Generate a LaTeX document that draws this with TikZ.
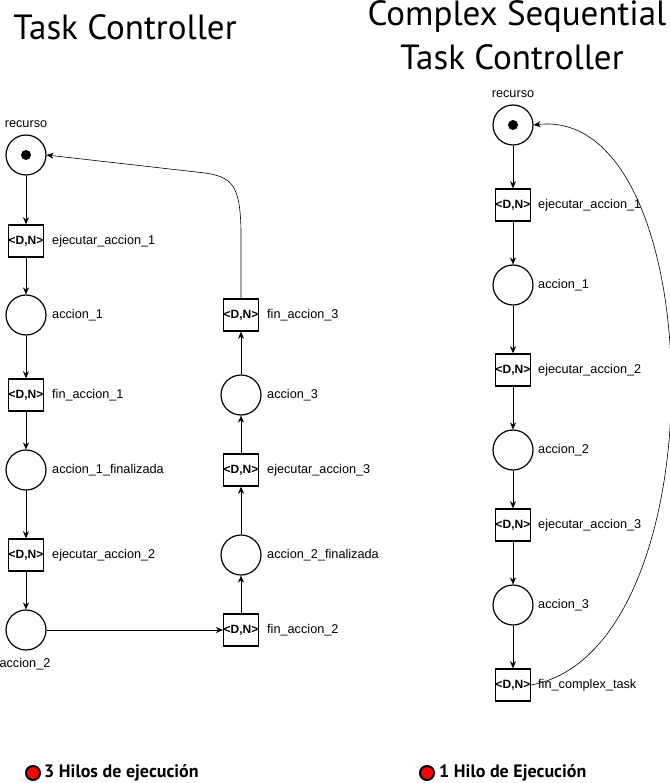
\documentclass[tikz,border=0pt]{standalone}
\usepackage{fontspec}
\setmainfont{Liberation Sans}
\newfontfamily\titlefont{PT Sans}
\usetikzlibrary{arrows.meta}

\begin{document}
\begin{tikzpicture}[x=1pt,y=-1pt,
    place/.style={shape=circle,draw=black,line width=1.2pt,minimum size=40pt,inner sep=0pt},
    trans/.style={shape=rectangle,draw=black,line width=1.5pt,minimum size=32pt,inner sep=0pt,font=\bfseries\fontsize{12}{12}\selectfont},
    lbl/.style={anchor=west,inner sep=0pt,font=\fontsize{12.7}{12.7}\selectfont},
    token/.style={shape=circle,fill=black,minimum size=10pt,inner sep=0pt},
    arc/.style={-{Stealth[length=7pt,width=6pt]},line width=0.6pt},
    title/.style={font=\titlefont\fontsize{35}{35}\selectfont,inner sep=0pt},
    legend/.style={shape=circle,fill=red,draw=black,line width=2pt,minimum size=14pt,inner sep=0pt},
    legtext/.style={anchor=west,inner sep=0pt,font=\titlefont\bfseries\fontsize{18}{18}\selectfont}]
  \useasboundingbox (0,0) rectangle (669,783);

  % titles
  \node[title] (T1) at (125,27) {Task Controller};
  \node[title] (T2a) at (517,17) {Complex Sequential};
  \node[title] (T2b) at (512,57) {Task Controller};

  % ---- left net
  \node[place] (R1) at (26,155) {};
  \node[token] (K1) at (R1) {};
  \node[lbl,anchor=south] (LR1) at (26,128) {recurso};

  \node[trans] (EA1) at (26,241) {<D,N>};
  \node[place] (A1) at (26,315) {};
  \node[trans] (FA1) at (26,395) {<D,N>};
  \node[place] (AF1) at (26,470) {};
  \node[trans] (EA2) at (26,555) {<D,N>};
  \node[place] (A2) at (26,630) {};

  \node[trans] (FA2) at (241,630) {<D,N>};
  \node[place] (AF2) at (241,555) {};
  \node[trans] (EA3) at (241,470) {<D,N>};
  \node[place] (A3) at (241,395) {};
  \node[trans] (FA3) at (241,315) {<D,N>};

  \node[lbl] (LEA1) at (52,241) {ejecutar\_accion\_1};
  \node[lbl] (LA1) at (52,315) {accion\_1};
  \node[lbl] (LFA1) at (52,395) {fin\_accion\_1};
  \node[lbl] (LAF1) at (52,470) {accion\_1\_finalizada};
  \node[lbl] (LEA2) at (52,555) {ejecutar\_accion\_2};
  \node[lbl,anchor=center] (LA2) at (25,664) {accion\_2};

  \node[lbl] (LFA2) at (267,630) {fin\_accion\_2};
  \node[lbl] (LAF2) at (267,555) {accion\_2\_finalizada};
  \node[lbl] (LEA3) at (267,470) {ejecutar\_accion\_3};
  \node[lbl] (LA3) at (267,395) {accion\_3};
  \node[lbl] (LFA3) at (267,315) {fin\_accion\_3};

  \draw[arc] (R1) -- (EA1);
  \draw[arc] (EA1) -- (A1);
  \draw[arc] (A1) -- (FA1);
  \draw[arc] (FA1) -- (AF1);
  \draw[arc] (AF1) -- (EA2);
  \draw[arc] (EA2) -- (A2);
  \draw[arc] (A2) -- (FA2);
  \draw[arc] (FA2) -- (AF2);
  \draw[arc] (AF2) -- (EA3);
  \draw[arc] (EA3) -- (A3);
  \draw[arc] (A3) -- (FA3);
  \draw[arc] (FA3.north) -- (241,230) .. controls (240,185) and (232,177) .. (205,173) -- (R1.east);

  % ---- right net
  \node[place] (R2) at (513,125) {};
  \node[token] (K2) at (R2) {};
  \node[lbl,anchor=south] (LR2) at (513,98) {recurso};

  \node[trans] (CE1) at (513,205) {<D,N>};
  \node[place] (C1) at (513,285) {};
  \node[trans] (CE2) at (513,370) {<D,N>};
  \node[place] (C2) at (513,450) {};
  \node[trans] (CE3) at (513,525) {<D,N>};
  \node[place] (C3) at (513,605) {};
  \node[trans] (CF) at (513,685) {<D,N>};

  \node[lbl] (LCE1) at (538,205) {ejecutar\_accion\_1};
  \node[lbl] (LC1) at (538,285) {accion\_1};
  \node[lbl] (LCE2) at (538,370) {ejecutar\_accion\_2};
  \node[lbl] (LC2) at (538,450) {accion\_2};
  \node[lbl] (LCE3) at (538,525) {ejecutar\_accion\_3};
  \node[lbl] (LC3) at (538,605) {accion\_3};
  \node[lbl] (LCF) at (538,685) {fin\_complex\_task};

  \draw[arc] (R2) -- (CE1);
  \draw[arc] (CE1) -- (C1);
  \draw[arc] (C1) -- (CE2);
  \draw[arc] (CE2) -- (C2);
  \draw[arc] (C2) -- (CE3);
  \draw[arc] (CE3) -- (C3);
  \draw[arc] (C3) -- (CF);
  \draw[arc] (CF.east) .. controls (722,650) and (712,105) .. (R2.east);

  % legend
  \node[legend] (D1) at (33,773) {};
  \node[legtext] (H1) at (44,773) {3 Hilos de ejecución};
  \node[legend] (D2) at (427,773) {};
  \node[legtext] (H2) at (439,773) {1 Hilo de Ejecución};
\end{tikzpicture}
\end{document}
